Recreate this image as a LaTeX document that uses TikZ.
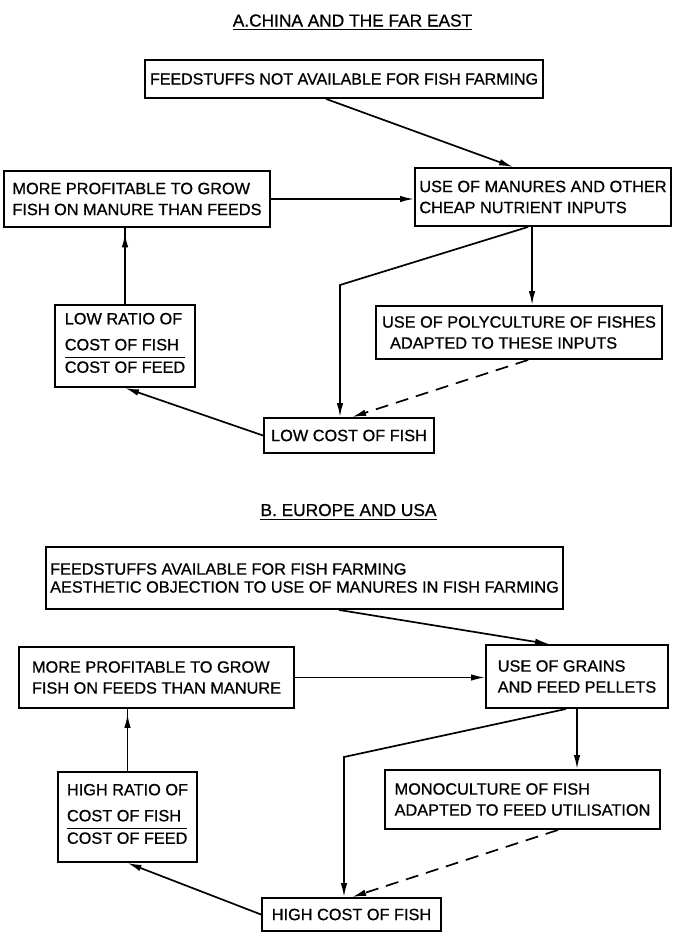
\documentclass[tikz,border=0pt]{standalone}
\usepackage{fontspec}
\setmainfont{Liberation Sans}[FakeBold=0.8]
\usetikzlibrary{arrows.meta,calc,decorations.markings}

\setlength{\arrayrulewidth}{1.5pt}
% "cost of fish over cost of feed" written as a fraction
\newcommand{\costratio}[2]{\begin{tabular}[t]{@{}l@{}}#1\\\hline #2\end{tabular}}

\tikzset{
  box/.style={draw, line width=1.9pt, inner sep=0pt, align=left,
    font=\fontsize{16.3}{21}\selectfont},
  heading/.style={inner sep=0pt, anchor=base, font=\fontsize{17.3}{20}\selectfont},
  rule/.style={line width=1.5pt},
  link/.style={line width=1.7pt, -{Latex[length=14pt,width=6.5pt]}},
  dashlink/.style={link, dash pattern=on 13pt off 8pt},
  midarrow/.style={line width=1.7pt, postaction={decorate},
    decoration={markings, mark=at position #1 with {\arrow{Latex[length=14pt,width=6.5pt]}}}},
}

\begin{document}
\begin{tikzpicture}[x=1pt,y=-1pt]
\useasboundingbox (0,0) rectangle (674,932);

% ---------- A. China and the Far East ----------
\node[heading] (tA) at (352.5,26.5) {A.CHINA AND THE FAR EAST};
\draw[rule] ([yshift=-3pt]tA.base west) -- ([yshift=-3pt]tA.base east);

\node[box, minimum width=398pt, minimum height=38pt, font=\fontsize{16}{20}\selectfont]
  (F1) at (344,79) {FEEDSTUFFS NOT AVAILABLE FOR FISH FARMING};
\node[box, minimum width=266pt, minimum height=56pt] (M1) at (137,199)
  {MORE PROFITABLE TO GROW\\FISH ON MANURE THAN FEEDS};
\node[box, minimum width=256pt, minimum height=58pt] (U1) at (543,197)
  {USE OF MANURES AND OTHER\\CHEAP NUTRIENT INPUTS};
\node[box, minimum width=140pt, minimum height=82pt] (L1) at (125,346)
  {LOW RATIO OF\\[5pt]\costratio{COST OF FISH}{COST OF FEED}};
\node[box, minimum width=286pt, minimum height=53pt] (P1) at (519,332.5)
  {USE OF POLYCULTURE OF FISHES\\\hspace*{8pt}ADAPTED TO THESE INPUTS};
\node[box, minimum width=170pt, minimum height=35pt, align=center] (LC) at (349,435.5)
  {LOW COST OF FISH};

\coordinate (bendA) at (340,285);

\draw[link] ([xshift=182pt]F1.south west) -- ([xshift=99pt]U1.north west);
\draw[link] (M1.east) -- (M1.east -| U1.west);
\draw[midarrow=0.93] (L1.north) -- (L1.north |- M1.south);
\draw[link] ([xshift=114pt]U1.south west) -- (bendA) -- (bendA |- LC.north);
\draw[link] ([xshift=118pt]U1.south west) -- ([xshift=118pt]U1.south west |- P1.north);
\draw[dashlink] ([xshift=153pt]P1.south west) -- ([xshift=89pt]LC.north west);
\draw[link] (LC.west) -- (L1.south);

% ---------- B. Europe and USA ----------
\node[heading] (tB) at (348.5,516) {B. EUROPE AND USA};
\draw[rule] ([yshift=-3.5pt]tB.base west) -- ([yshift=-3.5pt]tB.base east);

\node[box, minimum width=517pt, minimum height=62pt, font=\fontsize{16.3}{18}\selectfont]
  (F2) at (304.5,578)
  {FEEDSTUFFS AVAILABLE FOR FISH FARMING\\AESTHETIC OBJECTION TO USE OF MANURES IN FISH FARMING};
\node[box, minimum width=275pt, minimum height=61pt] (M2) at (156.5,677.5)
  {MORE PROFITABLE TO GROW\\FISH ON FEEDS THAN MANURE};
\node[box, minimum width=182pt, minimum height=63pt] (U2) at (577,676.5)
  {USE OF GRAINS\\AND FEED PELLETS};
\node[box, minimum width=139pt, minimum height=90pt] (H) at (127.5,817)
  {HIGH RATIO OF\\[5pt]\costratio{COST OF FISH}{COST OF FEED}};
\node[box, minimum width=275pt, minimum height=59pt] (MONO) at (522.5,799.5)
  {MONOCULTURE OF FISH\\ADAPTED TO FEED UTILISATION};
\node[box, minimum width=179pt, minimum height=33pt, align=center] (HC) at (351.5,914.5)
  {HIGH COST OF FISH};

\coordinate (bendB) at (344,757);

\draw[link] ([xshift=294pt]F2.south west) -- ([xshift=64pt]U2.north west);
\draw[link] (M2.east) -- (M2.east -| U2.west);
\draw[midarrow=0.92] (H.north) -- (H.north |- M2.south);
\draw[link] ([xshift=81pt]U2.south west) -- (bendB) -- (bendB |- HC.north);
\draw[link] (U2.south) -- (U2.south |- MONO.north);
\draw[dashlink] ([xshift=174pt]MONO.south west) -- ([xshift=91pt]HC.north west);
\draw[link] (HC.west) -- (H.south);
\end{tikzpicture}
\end{document}
